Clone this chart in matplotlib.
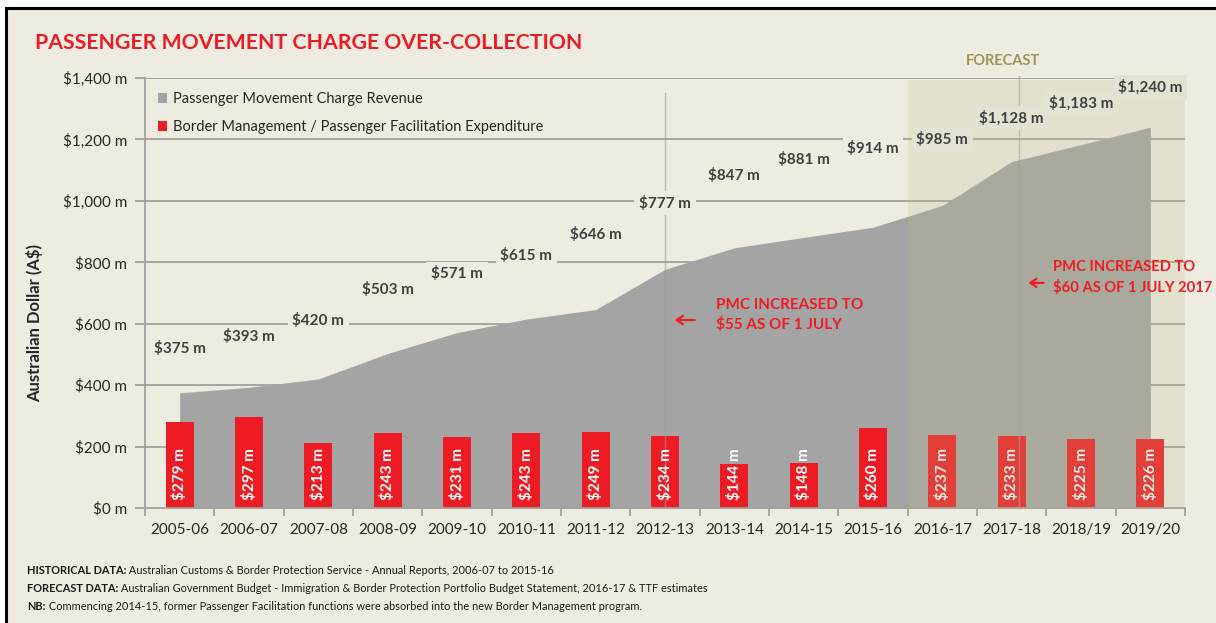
import matplotlib
matplotlib.use("Agg")
import matplotlib.pyplot as plt
from matplotlib.patches import Rectangle, Patch

plt.rcParams['font.family'] = ['Lato', 'DejaVu Sans']

categories = ["2005-06", "2006-07", "2007-08", "2008-09", "2009-10", "2010-11",
              "2011-12", "2012-13", "2013-14", "2014-15", "2015-16", "2016-17",
              "2017-18", "2018/19", "2019/20"]
revenue = [375, 393, 420, 503, 571, 615, 646, 777, 847, 881, 914, 985, 1128, 1183, 1240]
expenditure = [279, 297, 213, 243, 231, 243, 249, 234, 144, 148, 260, 237, 233, 225, 226]
revenue_labels = ["$375 m", "$393 m", "$420 m", "$503 m", "$571 m", "$615 m", "$646 m",
                  "$777 m", "$847 m", "$881 m", "$914 m", "$985 m", "$1,128 m",
                  "$1,183 m", "$1,240 m"]
expenditure_labels = ["$279 m", "$297 m", "$213 m", "$243 m", "$231 m", "$243 m",
                      "$249 m", "$234 m", "$144 m", "$148 m", "$260 m", "$237 m",
                      "$233 m", "$225 m", "$226 m"]
yticks = [0, 200, 400, 600, 800, 1000, 1200, 1400]
ytick_labels = ["$0 m", "$200 m", "$400 m", "$600 m", "$800 m", "$1,000 m", "$1,200 m", "$1,400 m"]
forecast_start = 11  # index of first forecast year

# label vertical offsets (style, in data units above the area)
label_offsets = [143, 164, 192, 207, 191, 206, 243, 216, 234, 253, 255, 214, 142, 136, 131]

BG = '#EEEBE0'
RED = '#ED1C24'
GREY = '#A4A4A4'
W, H = 1216, 623
fig = plt.figure(figsize=(W / 100, H / 100), dpi=100)
fig.patch.set_facecolor('white')

# framed background
fig.patches.append(Rectangle((6 / W, -0.01), 1.02, (H - 8) / H + 0.01, transform=fig.transFigure,
                             facecolor=BG, edgecolor='black', lw=2.2, zorder=-10))

ax = fig.add_axes([145 / W, (H - 508) / H, (1185 - 145) / W, (508 - 78) / H])
ax.set_facecolor('none')
x = list(range(len(categories)))
ax.set_xlim(-0.5, len(categories) - 0.5)
ax.set_ylim(0, 1400)

# gridlines
for yv in yticks[1:]:
    ax.axhline(yv, color='#A0A0A0', lw=1.3, zorder=0)

ax.fill_between(x, revenue, 0, color=GREY, lw=0, zorder=1)
ax.bar(x, expenditure, width=0.4, color=RED, zorder=2)

# vertical markers
ax.plot([7, 7], [0, 1350], color='#9A9A9A', lw=1, alpha=0.6, zorder=3)
ax.plot([12.1, 12.1], [0, 1405], color='#9A9A9A', lw=1, alpha=0.6, zorder=3, clip_on=False)

for i, (v, lab) in enumerate(zip(expenditure, expenditure_labels)):
    ax.text(i, 26, lab, rotation=90, ha='center', va='bottom', color='white',
            fontsize=11, fontweight='bold', zorder=4)

# forecast overlay
ax.add_patch(Rectangle((forecast_start - 0.5, 0), len(categories) - forecast_start, 1392,
                       facecolor='#BFBD8C', alpha=0.22, lw=0, zorder=5))

for i, (v, lab, off) in enumerate(zip(revenue, revenue_labels, label_offsets)):
    fc = '#E4E2D3' if i >= forecast_start else BG
    ax.text(i, v + off, lab, ha='center', va='center', color='#404040', fontsize=11,
            fontweight='bold', zorder=6,
            bbox=dict(boxstyle='square,pad=0.3', facecolor=fc, edgecolor='none'))

# annotations
ax.annotate('', xy=(7.1, 612), xytext=(7.47, 612),
            arrowprops=dict(arrowstyle='->,head_width=0.3,head_length=0.45', color=RED, lw=1.6),
            zorder=7)
ax.text(7.74, 628, "PMC INCREASED TO\n$55 AS OF 1 JULY", color=RED, fontsize=11,
        fontweight='bold', ha='left', va='center', linespacing=1.45, zorder=7)
ax.annotate('', xy=(12.2, 733), xytext=(12.5, 733),
            arrowprops=dict(arrowstyle='->,head_width=0.3,head_length=0.45', color=RED, lw=1.6),
            zorder=7)
ax.text(12.6, 749, "PMC INCREASED TO\n$60 AS OF 1 JULY 2017", color=RED, fontsize=10.6,
        fontweight='bold', ha='left', va='center', linespacing=1.5, zorder=7, clip_on=False)

# axes styling
for s in ['top', 'right']:
    ax.spines[s].set_visible(False)
for s in ['left', 'bottom']:
    ax.spines[s].set_color('#A0A0A0')
    ax.spines[s].set_linewidth(1.3)
ax.set_yticks(yticks)
ax.set_yticklabels(ytick_labels)
ax.tick_params(axis='y', length=7, width=1.3, color='#A0A0A0', labelsize=11,
               labelcolor='#262626', pad=6)
ax.set_xticks(x)
ax.set_xticklabels(categories)
ax.set_xticks([i - 0.5 for i in range(len(categories) + 1)], minor=True)
ax.tick_params(axis='x', which='major', length=0, labelsize=11, labelcolor='#262626', pad=11)
ax.tick_params(axis='x', which='minor', length=6, width=1.3, color='#A0A0A0')
ax.set_ylabel("Australian Dollar (A$)", fontsize=12, fontweight='bold', color='#262626')
ax.yaxis.set_label_coords(-0.098, 0.43)

# legend
leg = ax.legend(handles=[Patch(facecolor=GREY, edgecolor='none'), Patch(facecolor=RED, edgecolor='none')],
                labels=["Passenger Movement Charge Revenue",
                        "Border Management / Passenger Facilitation Expenditure"],
                loc='upper left', bbox_to_anchor=(158 / W, (H - 92) / H),
                bbox_transform=fig.transFigure, frameon=False, fontsize=10.5,
                handlelength=0.65, handleheight=0.65, handletextpad=0.4, labelspacing=0.95,
                borderaxespad=0, borderpad=0)
for t in leg.get_texts():
    t.set_color('#262626')

# title and texts
fig.text(35 / W, (H - 43) / H, "PASSENGER MOVEMENT CHARGE OVER-COLLECTION", color=RED,
         fontsize=15.3, fontweight='bold', ha='left', va='center')
fig.text(1003 / W, (H - 61) / H, "FORECAST", color='#9E9458', fontsize=10.5,
         fontweight='bold', ha='center', va='center')

footer = [("HISTORICAL DATA:", " Australian Customs & Border Protection Service - Annual Reports, 2006-07 to 2015-16", 571),
          ("FORECAST DATA:", " Australian Government Budget - Immigration & Border Protection Portfolio Budget Statement, 2016-17 & TTF estimates", 589),
          ("NB:", " Commencing 2014-15, former Passenger Facilitation functions were absorbed into the new Border Management program.", 606)]
renderer = fig.canvas.get_renderer()
for bold, rest, yp in footer:
    t = fig.text(27 / W, (H - yp) / H, bold, fontsize=7.9, fontweight='bold', color='#1A1A1A',
                 ha='left', va='center')
    bb = t.get_window_extent(renderer)
    fig.text(bb.x1 / W, (H - yp) / H, rest, fontsize=7.9, color='#1A1A1A', ha='left', va='center')

fig.savefig('out.png', dpi=100, facecolor=fig.get_facecolor())
